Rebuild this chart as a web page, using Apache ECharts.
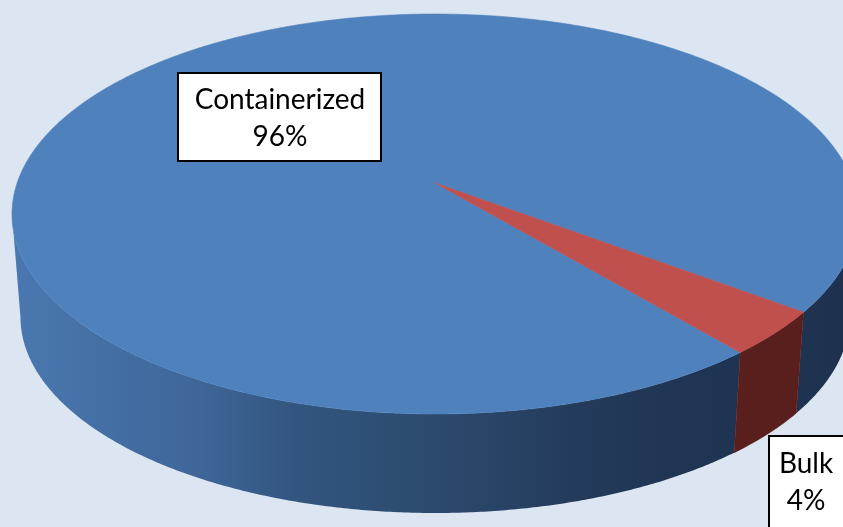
<!DOCTYPE html>
<html>
<head>
<meta charset="utf-8">
<script src="https://cdn.jsdelivr.net/npm/echarts@6/dist/echarts.min.js"></script>
<style>
  html, body { margin: 0; padding: 0; background: #dce6f2; }
  #main { width: 843px; height: 527px; }
</style>
</head>
<body>
<div id="main"></div>
<script>
// Shipment mode split
const categories = ['Containerized', 'Bulk'];
const shares = [96, 4];

// Colours of the top faces and of the outer walls
const topColors = ['#4f81bd', '#c0504d'];
const wallColors = ['#2f5079', '#591f1c'];

// Tilted disc layout (pixels) and where the first slice starts (degrees, clockwise from 3 o'clock)
const disc = { cx: 435, cy: 214, rx: 423, ry: 200, depth: 103, shrink: 0.98, apexDy: -31, startDeg: 43.8 };

// Callout boxes for the slice labels
const labelBoxes = [
  { x: 178, y: 73, w: 203, h: 88, tx: 280, ty: 118 },
  { x: 769, y: 436, w: 120, h: 110, tx: 806, ty: 482 }
];

const total = shares.reduce((s, v) => s + v, 0);
const sliceStarts = [];
let acc = 0;
shares.forEach(v => { sliceStarts.push(disc.startDeg + 360 * acc / total); acc += v; });
const sliceSpan = i => 360 * shares[i] / total;

function topPt(deg) {
  const t = deg * Math.PI / 180;
  return [disc.cx + disc.rx * Math.cos(t), disc.cy + disc.ry * Math.sin(t)];
}
function basePt(deg) {
  const t = deg * Math.PI / 180;
  return [disc.cx + disc.shrink * disc.rx * Math.cos(t),
          disc.cy + disc.depth + disc.shrink * disc.ry * Math.sin(t)];
}
function arc(fn, a, b) {
  const n = Math.max(2, Math.ceil(Math.abs(b - a) / 0.5));
  const pts = [];
  for (let i = 0; i <= n; i++) pts.push(fn(a + (b - a) * i / n));
  return pts;
}
// Parts of an angular range that face the viewer (front half of the rim)
function frontRanges(a, b) {
  const out = [];
  [-360, 0, 360].forEach(k => {
    const lo = Math.max(a, k), hi = Math.min(b, k + 180);
    if (hi > lo) out.push([lo, hi]);
  });
  return out;
}

const blueWall = {
  type: 'linear', global: true,
  x: disc.cx - disc.rx, y: 0, x2: disc.cx + disc.rx, y2: 0,
  colorStops: [
    { offset: 0, color: '#4a78b0' },
    { offset: 0.22, color: '#3e6699' },
    { offset: 0.34, color: '#32557e' },
    { offset: 0.52, color: '#2b486c' },
    { offset: 0.7, color: '#223957' },
    { offset: 0.85, color: '#1f3352' },
    { offset: 1, color: '#1e3250' }
  ]
};
const wallFills = [blueWall, wallColors[1]];

function renderWall(params) {
  const i = params.dataIndex;
  const a = sliceStarts[i], b = a + sliceSpan(i);
  const children = frontRanges(a, b).map(([lo, hi]) => ({
    type: 'polygon',
    shape: { points: arc(topPt, lo, hi).concat(arc(basePt, hi, lo)) },
    style: { fill: wallFills[i], stroke: i === 0 ? null : wallColors[1], lineWidth: 0.6 }
  }));
  return { type: 'group', children };
}

function renderTop(params) {
  const i = params.dataIndex;
  const a = sliceStarts[i], b = a + sliceSpan(i);
  const apex = [disc.cx, disc.cy + disc.apexDy];
  return {
    type: 'polygon',
    shape: { points: [apex].concat(arc(topPt, a, b)) },
    style: { fill: topColors[i], stroke: topColors[i], lineWidth: 0.6 }
  };
}

function renderLabel(params) {
  const i = params.dataIndex;
  const box = labelBoxes[i];
  return {
    type: 'group',
    children: [
      { type: 'rect', shape: { x: box.x, y: box.y, width: box.w, height: box.h },
        style: { fill: '#ffffff', stroke: '#000000', lineWidth: 2 } },
      { type: 'text',
        style: {
          text: categories[i] + '\n' + shares[i] + '%',
          x: box.tx, y: box.ty, align: 'center', verticalAlign: 'middle',
          fontFamily: 'Lato', fontSize: 28, lineHeight: 37, fill: '#000000'
        } }
    ]
  };
}

const seriesData = shares.map((v, i) => ({ name: categories[i], value: v }));

const chart = echarts.init(document.getElementById('main'), null, { renderer: 'canvas' });
chart.setOption({
  backgroundColor: '#dce6f2',
  animation: false,
  series: [
    { type: 'custom', coordinateSystem: 'none', z: 1, data: seriesData, renderItem: renderWall, silent: true },
    { type: 'custom', coordinateSystem: 'none', z: 2, data: seriesData, renderItem: renderTop, silent: true },
    { type: 'custom', coordinateSystem: 'none', z: 3, data: seriesData, renderItem: renderLabel, silent: true }
  ]
});
</script>
</body>
</html>
